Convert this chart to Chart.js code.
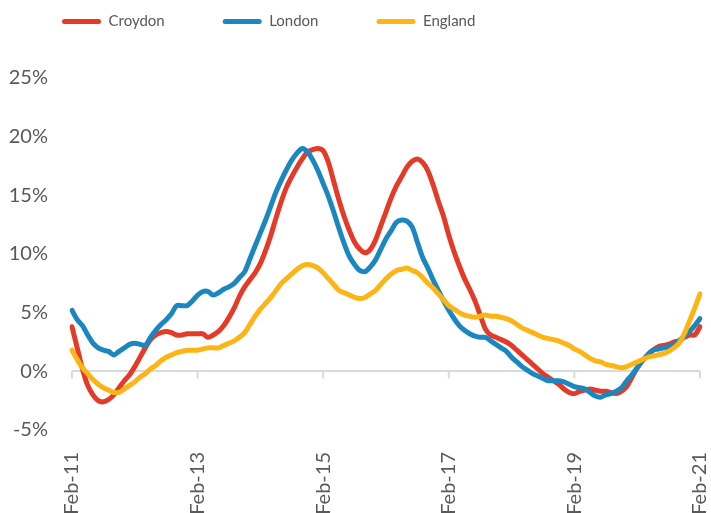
<!DOCTYPE html>
<html>
<head>
<meta charset="utf-8">
<script src="https://cdn.jsdelivr.net/npm/chart.js@4"></script>
<style>
  html, body { margin: 0; padding: 0; background: #fff; }
  #wrap { width: 711px; height: 513px; }
</style>
</head>
<body>
<div id="wrap"><canvas id="priceChart" width="711" height="513"></canvas></div>
<script>
// annual house price change, monthly Feb-11 .. Feb-21
const monthNames = ['Jan', 'Feb', 'Mar', 'Apr', 'May', 'Jun', 'Jul', 'Aug', 'Sep', 'Oct', 'Nov', 'Dec'];
const labels = [];
for (let i = 0; i <= 120; i++) {
    const m = (1 + i) % 12;
    const y = 11 + Math.floor((1 + i) / 12);
    labels.push(monthNames[m] + '-' + y);
}
const yTicks = [-5, 0, 5, 10, 15, 20, 25];

const croydon = [
    3.8, 2.0, 0.2, -1.2, -2.0, -2.5, -2.6, -2.4, -2.0, -1.4, -0.8, -0.3,
    0.4, 1.2, 2.0, 2.7, 3.1, 3.3, 3.4, 3.3, 3.1, 3.1, 3.2, 3.2,
    3.2, 3.2, 2.9, 3.1, 3.4, 3.9, 4.6, 5.4, 6.4, 7.2, 7.8, 8.4,
    9.2, 10.3, 11.6, 13.1, 14.5, 15.7, 16.6, 17.4, 18.1, 18.7, 18.9, 19.0,
    18.8, 17.8, 16.2, 14.6, 13.2, 12.0, 11.0, 10.4, 10.1, 10.4, 11.2, 12.4,
    13.6, 14.8, 15.8, 16.6, 17.4, 17.9, 18.1, 17.8, 17.1, 15.9, 14.5, 13.2,
    11.6, 10.2, 9.0, 7.9, 7.0, 6.0, 4.8, 3.6, 3.1, 2.9, 2.7, 2.5,
    2.2, 1.8, 1.4, 1.0, 0.6, 0.2, -0.2, -0.5, -0.8, -1.1, -1.5, -1.8,
    -1.9, -1.7, -1.6, -1.5, -1.6, -1.7, -1.7, -1.8, -1.9, -1.7, -1.3, -0.5,
    0.3, 0.9, 1.4, 1.8, 2.1, 2.2, 2.3, 2.5, 2.6, 2.9, 3.1, 3.1,
    3.8
];
const london = [
    5.2, 4.4, 3.9, 3.1, 2.4, 2.0, 1.8, 1.7, 1.4, 1.7, 2.0, 2.3,
    2.4, 2.3, 2.2, 2.9, 3.5, 4.0, 4.4, 4.9, 5.6, 5.6, 5.6, 6.0,
    6.5, 6.8, 6.8, 6.5, 6.7, 7.0, 7.2, 7.5, 8.0, 8.5, 9.6, 10.7,
    11.8, 12.9, 14.1, 15.3, 16.3, 17.2, 18.0, 18.6, 19.0, 18.7, 18.0, 17.1,
    16.0, 14.9, 13.6, 12.2, 10.9, 9.8, 9.1, 8.6, 8.5, 8.9, 9.5, 10.4,
    11.3, 12.0, 12.7, 12.9, 12.8, 12.3, 11.0, 9.7, 8.8, 7.8, 6.9, 6.0,
    5.2, 4.5, 3.9, 3.5, 3.2, 3.0, 2.9, 2.9, 2.6, 2.3, 2.0, 1.7,
    1.2, 0.8, 0.4, 0.1, -0.2, -0.4, -0.6, -0.8, -0.8, -0.8, -0.9, -1.1,
    -1.3, -1.4, -1.5, -1.8, -2.1, -2.2, -2.0, -1.9, -1.7, -1.4, -0.8, -0.3,
    0.3, 0.9, 1.4, 1.8, 1.9, 2.0, 2.1, 2.3, 2.6, 3.0, 3.4, 3.9,
    4.5
];
const england = [
    1.8, 1.0, 0.3, -0.2, -0.7, -1.1, -1.4, -1.6, -1.8, -1.8, -1.5, -1.2,
    -0.9, -0.5, -0.2, 0.2, 0.5, 0.9, 1.2, 1.4, 1.6, 1.7, 1.8, 1.8,
    1.8, 1.9, 2.0, 2.0, 2.0, 2.2, 2.4, 2.6, 2.9, 3.3, 4.0, 4.7,
    5.3, 5.8, 6.3, 6.9, 7.5, 7.9, 8.3, 8.7, 9.0, 9.1, 9.0, 8.8,
    8.4, 7.9, 7.4, 6.9, 6.7, 6.5, 6.3, 6.2, 6.3, 6.6, 6.9, 7.4,
    7.9, 8.3, 8.6, 8.7, 8.8, 8.6, 8.4, 8.0, 7.5, 7.1, 6.6, 6.1,
    5.6, 5.3, 5.0, 4.8, 4.7, 4.6, 4.7, 4.8, 4.7, 4.7, 4.6, 4.5,
    4.3, 4.0, 3.7, 3.5, 3.3, 3.1, 2.9, 2.8, 2.7, 2.6, 2.4, 2.2,
    1.9, 1.7, 1.4, 1.1, 0.9, 0.8, 0.6, 0.5, 0.4, 0.3, 0.4, 0.6,
    0.8, 1.0, 1.2, 1.3, 1.4, 1.5, 1.7, 2.0, 2.4, 3.2, 4.3, 5.4,
    6.6
];

const textGrey = '#595959';
const axisGrey = '#d9d9d9';

// small tick marks hanging under the zero line
const zeroTicks = {
    id: 'zeroTicks',
    beforeDatasetsDraw(chart) {
        const { ctx, scales: { x, y } } = chart;
        const y0 = y.getPixelForValue(0);
        ctx.save();
        ctx.strokeStyle = axisGrey;
        ctx.lineWidth = 2;
        labels.forEach((l, i) => {
            if (i % 24 !== 0) return;
            const px = x.getPixelForValue(i);
            ctx.beginPath();
            ctx.moveTo(px, y0);
            ctx.lineTo(px, y0 + 7);
            ctx.stroke();
        });
        ctx.restore();
    }
};

// legend box gets a fixed height so the plot starts where the original does
const legendHeight = {
    id: 'legendHeight',
    beforeInit(chart) {
        const legend = chart.legend;
        const fit = legend.fit;
        legend.fit = function () {
            fit.call(this);
            this.height = 122;
        };
    }
};

function line(label, data, color, order) {
    return {
        label: label,
        data: data,
        borderColor: color,
        backgroundColor: color,
        borderWidth: 5,
        pointRadius: 0,
        tension: 0.3,
        borderCapStyle: 'round',
        borderJoinStyle: 'round',
        order: order
    };
}

new Chart(document.getElementById('priceChart'), {
    type: 'line',
    data: {
        labels: labels,
        datasets: [
            line('Croydon', croydon, '#e53a27', 2),
            line('London', london, '#1b87c0', 1),
            line('England', england, '#fdb515', 0)
        ]
    },
    options: {
        responsive: false,
        animation: false,
        layout: { padding: { top: -44, left: 4, right: 11, bottom: 0 } },
        plugins: {
            tooltip: { enabled: false },
            legend: {
                position: 'top',
                align: 'start',
                labels: {
                    boxWidth: 39,
                    boxHeight: 5,
                    useBorderRadius: true,
                    borderRadius: 2.5,
                    padding: 58,
                    color: textGrey,
                    font: { family: 'Lato', size: 15 },
                    sort: (a, b) => a.datasetIndex - b.datasetIndex,
                    generateLabels(chart) {
                        return Chart.defaults.plugins.legend.labels.generateLabels(chart)
                            .map(l => Object.assign(l, { lineWidth: 0 }));
                    }
                }
            }
        },
        scales: {
            x: {
                grid: { display: false },
                border: { display: false },
                afterFit(scale) {
                    scale.height = 83;
                    scale.paddingLeft = 0;
                    scale.paddingRight = 0;
                },
                ticks: {
                    autoSkip: false,
                    maxRotation: 90,
                    minRotation: 90,
                    padding: 14,
                    color: textGrey,
                    font: { family: 'Lato', size: 20 },
                    callback: (v, i) => (i % 24 === 0 ? labels[i] : '')
                }
            },
            y: {
                min: -5,
                max: 25,
                afterFit(scale) { scale.width = 68; },
                afterBuildTicks(scale) { scale.ticks = yTicks.map(v => ({ value: v })); },
                border: { display: false },
                grid: {
                    drawTicks: false,
                    lineWidth: 2,
                    color: c => (c.tick && c.tick.value === 0 ? axisGrey : 'rgba(0,0,0,0)')
                },
                ticks: {
                    padding: 24,
                    color: textGrey,
                    font: { family: 'Lato', size: 20 },
                    callback: v => v + '%'
                }
            }
        }
    },
    plugins: [zeroTicks, legendHeight]
});
</script>
</body>
</html>
